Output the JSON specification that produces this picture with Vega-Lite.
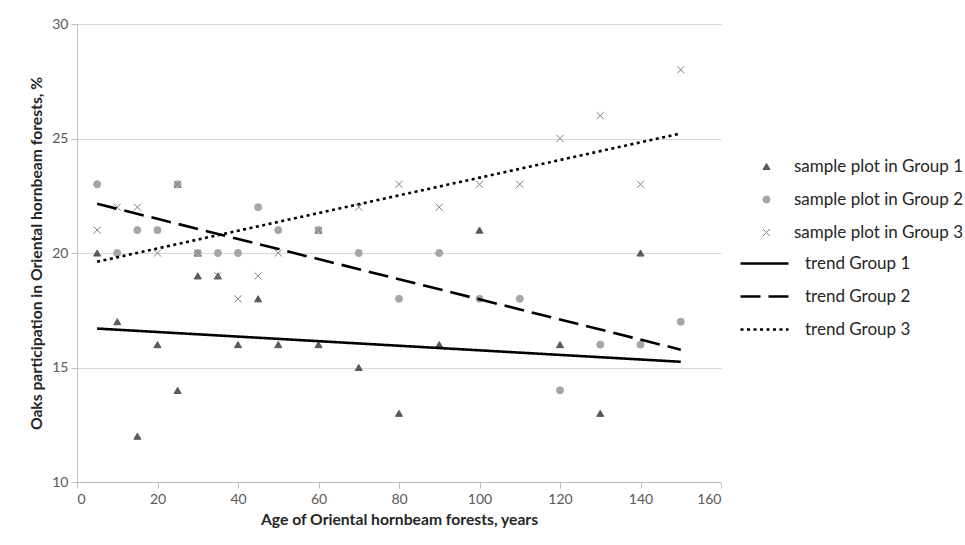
{
  "$schema": "https://vega.github.io/schema/vega-lite/v6.json",
  "width": 644,
  "height": 458,
  "autosize": {"type": "none"},
  "padding": {"left": 77, "top": 24, "right": 244, "bottom": 63},
  "background": "white",
  "config": {
    "view": {"stroke": null},
    "font": "Lato",
    "axis": {
      "domainColor": "#bfbfbf",
      "tickColor": "#bfbfbf",
      "labelColor": "#595959",
      "labelFont": "Lato",
      "labelFontSize": 14,
      "titleFont": "Lato",
      "titleFontWeight": "bold",
      "titleFontSize": 15.7,
      "titleColor": "#262626",
      "gridColor": "#d9d9d9"
    },
    "legend": {"labelLimit": 400}
  },
  "datasets": {
    "pts": [
      {"age": 5, "oak": 20, "group": "sample plot in Group 1"},
      {"age": 10, "oak": 17, "group": "sample plot in Group 1"},
      {"age": 15, "oak": 12, "group": "sample plot in Group 1"},
      {"age": 20, "oak": 16, "group": "sample plot in Group 1"},
      {"age": 25, "oak": 14, "group": "sample plot in Group 1"},
      {"age": 25, "oak": 23, "group": "sample plot in Group 1"},
      {"age": 30, "oak": 19, "group": "sample plot in Group 1"},
      {"age": 30, "oak": 20, "group": "sample plot in Group 1"},
      {"age": 35, "oak": 19, "group": "sample plot in Group 1"},
      {"age": 40, "oak": 16, "group": "sample plot in Group 1"},
      {"age": 45, "oak": 18, "group": "sample plot in Group 1"},
      {"age": 50, "oak": 16, "group": "sample plot in Group 1"},
      {"age": 60, "oak": 16, "group": "sample plot in Group 1"},
      {"age": 60, "oak": 21, "group": "sample plot in Group 1"},
      {"age": 70, "oak": 15, "group": "sample plot in Group 1"},
      {"age": 80, "oak": 13, "group": "sample plot in Group 1"},
      {"age": 90, "oak": 16, "group": "sample plot in Group 1"},
      {"age": 100, "oak": 21, "group": "sample plot in Group 1"},
      {"age": 120, "oak": 16, "group": "sample plot in Group 1"},
      {"age": 130, "oak": 13, "group": "sample plot in Group 1"},
      {"age": 140, "oak": 20, "group": "sample plot in Group 1"},
      {"age": 5, "oak": 23, "group": "sample plot in Group 2"},
      {"age": 10, "oak": 20, "group": "sample plot in Group 2"},
      {"age": 15, "oak": 21, "group": "sample plot in Group 2"},
      {"age": 20, "oak": 21, "group": "sample plot in Group 2"},
      {"age": 25, "oak": 23, "group": "sample plot in Group 2"},
      {"age": 30, "oak": 20, "group": "sample plot in Group 2"},
      {"age": 35, "oak": 20, "group": "sample plot in Group 2"},
      {"age": 40, "oak": 20, "group": "sample plot in Group 2"},
      {"age": 45, "oak": 22, "group": "sample plot in Group 2"},
      {"age": 50, "oak": 21, "group": "sample plot in Group 2"},
      {"age": 60, "oak": 21, "group": "sample plot in Group 2"},
      {"age": 70, "oak": 20, "group": "sample plot in Group 2"},
      {"age": 80, "oak": 18, "group": "sample plot in Group 2"},
      {"age": 90, "oak": 20, "group": "sample plot in Group 2"},
      {"age": 100, "oak": 18, "group": "sample plot in Group 2"},
      {"age": 110, "oak": 18, "group": "sample plot in Group 2"},
      {"age": 120, "oak": 14, "group": "sample plot in Group 2"},
      {"age": 130, "oak": 16, "group": "sample plot in Group 2"},
      {"age": 140, "oak": 16, "group": "sample plot in Group 2"},
      {"age": 150, "oak": 17, "group": "sample plot in Group 2"},
      {"age": 5, "oak": 21, "group": "sample plot in Group 3"},
      {"age": 10, "oak": 22, "group": "sample plot in Group 3"},
      {"age": 15, "oak": 22, "group": "sample plot in Group 3"},
      {"age": 20, "oak": 20, "group": "sample plot in Group 3"},
      {"age": 25, "oak": 23, "group": "sample plot in Group 3"},
      {"age": 30, "oak": 20, "group": "sample plot in Group 3"},
      {"age": 35, "oak": 19, "group": "sample plot in Group 3"},
      {"age": 40, "oak": 18, "group": "sample plot in Group 3"},
      {"age": 45, "oak": 19, "group": "sample plot in Group 3"},
      {"age": 50, "oak": 20, "group": "sample plot in Group 3"},
      {"age": 60, "oak": 21, "group": "sample plot in Group 3"},
      {"age": 70, "oak": 22, "group": "sample plot in Group 3"},
      {"age": 80, "oak": 23, "group": "sample plot in Group 3"},
      {"age": 90, "oak": 22, "group": "sample plot in Group 3"},
      {"age": 100, "oak": 23, "group": "sample plot in Group 3"},
      {"age": 110, "oak": 23, "group": "sample plot in Group 3"},
      {"age": 120, "oak": 25, "group": "sample plot in Group 3"},
      {"age": 130, "oak": 26, "group": "sample plot in Group 3"},
      {"age": 140, "oak": 23, "group": "sample plot in Group 3"},
      {"age": 150, "oak": 28, "group": "sample plot in Group 3"}
    ],
    "trends": [
      {"age": 5, "oak": 16.7, "trend": "trend Group 1"},
      {"age": 150, "oak": 15.25, "trend": "trend Group 1"},
      {"age": 5, "oak": 22.15, "trend": "trend Group 2"},
      {"age": 150, "oak": 15.78, "trend": "trend Group 2"},
      {"age": 5, "oak": 19.62, "trend": "trend Group 3"},
      {"age": 150, "oak": 25.22, "trend": "trend Group 3"}
    ]
  },
  "layer": [
    {
      "data": {"name": "pts"},
      "mark": {"type": "point", "filled": true, "opacity": 1, "size": 50, "strokeWidth": 1},
      "encoding": {
        "x": {
          "field": "age", "type": "quantitative",
          "scale": {"domain": [0, 160], "nice": false},
          "axis": {"values": [0, 20, 40, 60, 80, 100, 120, 140, 160], "grid": false, "tickSize": 6, "labelPadding": 4, "title": "Age of Oriental hornbeam  forests, years", "titlePadding": 6}
        },
        "y": {
          "field": "oak", "type": "quantitative",
          "scale": {"domain": [10, 30], "nice": false},
          "axis": {"values": [10, 15, 20, 25, 30], "grid": true, "tickSize": 6, "labelPadding": 3, "title": "Oaks participation in Oriental hornbeam forests, %", "titlePadding": 7}
        },
        "shape": {
          "field": "group", "type": "nominal",
          "scale": {"domain": ["sample plot in Group 1", "sample plot in Group 2", "sample plot in Group 3"], "range": ["triangle-up", "circle", "M-1,-1L1,1M-1,1L1,-1"]},
          "legend": {"orient": "none", "legendX": 681, "legendY": 134, "title": null, "symbolSize": 50, "symbolStrokeWidth": 1, "labelOffset": 19, "rowPadding": 15, "labelFont": "Lato", "labelFontSize": 17, "labelColor": "#262626", "labelLimit": 400}
        },
        "fill": {
          "field": "group", "type": "nominal",
          "scale": {"domain": ["sample plot in Group 1", "sample plot in Group 2", "sample plot in Group 3"], "range": ["#595959", "#a6a6a6", "#8c8c8c"]},
          "legend": {"orient": "none", "legendX": 681, "legendY": 134, "title": null, "symbolSize": 50, "symbolStrokeWidth": 1, "labelOffset": 19, "rowPadding": 15, "labelFont": "Lato", "labelFontSize": 17, "labelColor": "#262626", "labelLimit": 400}
        },
        "stroke": {
          "field": "group", "type": "nominal",
          "scale": {"domain": ["sample plot in Group 1", "sample plot in Group 2", "sample plot in Group 3"], "range": ["#595959", "#a6a6a6", "#808080"]},
          "legend": {"orient": "none", "legendX": 681, "legendY": 134, "title": null, "symbolSize": 50, "symbolStrokeWidth": 1, "labelOffset": 19, "rowPadding": 15, "labelFont": "Lato", "labelFontSize": 17, "labelColor": "#262626", "labelLimit": 400}
        }
      }
    },
    {
      "data": {"name": "trends"},
      "mark": {"type": "line", "color": "black", "strokeWidth": 2.6, "strokeCap": "butt"},
      "encoding": {
        "x": {"field": "age", "type": "quantitative"},
        "y": {"field": "oak", "type": "quantitative"},
        "strokeDash": {
          "field": "trend", "type": "nominal",
          "scale": {"domain": ["trend Group 1", "trend Group 2", "trend Group 3"], "range": [[1, 0], [20, 8], [3, 3.5]]},
          "legend": {"orient": "none", "legendX": 678, "legendY": 230, "title": null, "symbolType": "M-3,0L3,0", "symbolSize": 256, "symbolStrokeWidth": 2.6, "symbolStrokeColor": "black", "labelOffset": 31, "rowPadding": 15, "labelFont": "Lato", "labelFontSize": 17, "labelColor": "#262626", "labelLimit": 400}
        }
      }
    }
  ]
}
